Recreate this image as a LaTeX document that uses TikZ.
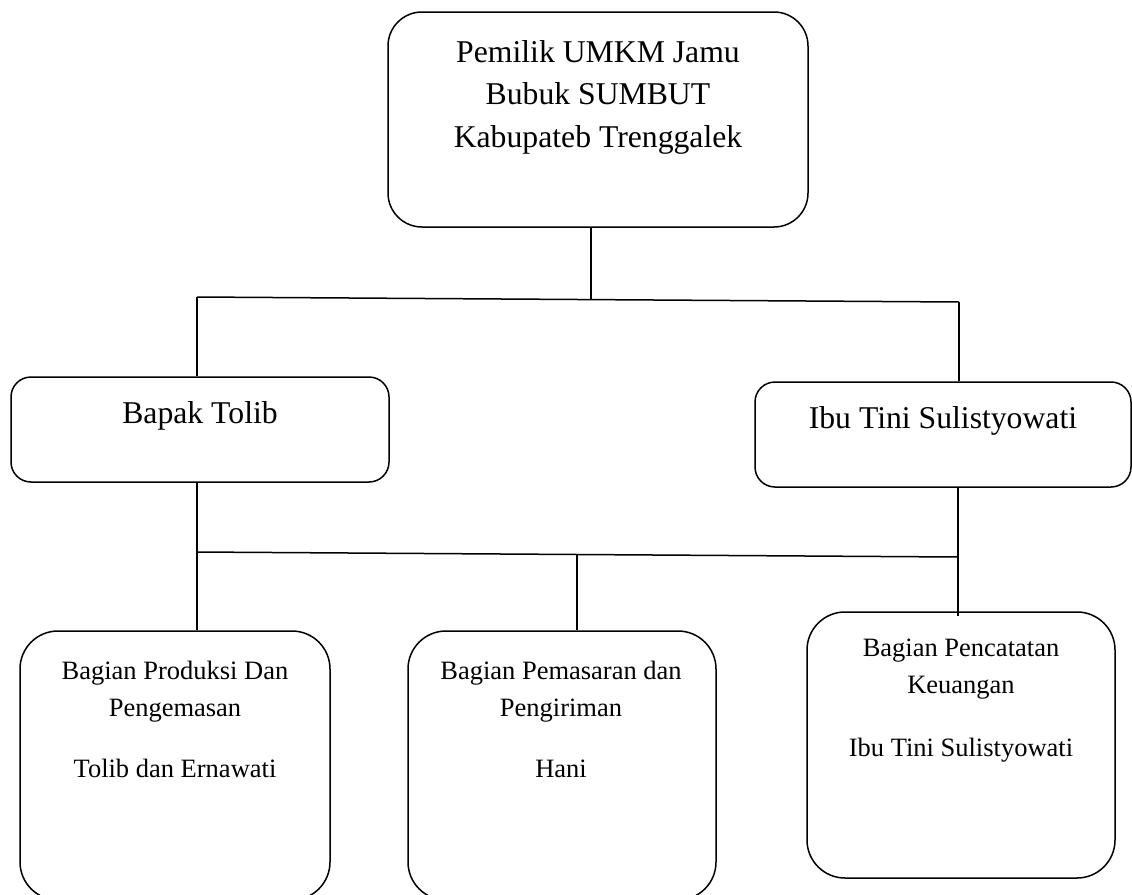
\documentclass[tikz,border=0pt]{standalone}
\usepackage{fontspec}
\setmainfont{Liberation Serif}
\usetikzlibrary{positioning,calc}

\begin{document}
\begin{tikzpicture}[x=1pt,y=-1pt,
    box/.style={draw, line width=1.5pt, inner sep=0pt},
    bigtxt/.style={align=center, font=\fontsize{31.7}{42.5}\selectfont, inner sep=0pt},
    smalltxt/.style={align=center, font=\fontsize{26.5}{37}\selectfont, inner sep=0pt},
    link/.style={line width=1.5pt}]
    \useasboundingbox (0,0) rectangle (1132,894);
    % owner
    \node[box, rounded corners=34pt, minimum width=420pt, minimum height=215pt] (owner) at (598,119.5) {};
    \node[bigtxt] (ownertxt) at (598,97) {Pemilik UMKM Jamu\\Bubuk SUMBUT\\Kabupateb Trenggalek};
    % second level
    \node[box, rounded corners=20pt, minimum width=378pt, minimum height=105pt] (tolib) at (200,429.5) {};
    \node[bigtxt] (tolibtxt) at (200,416) {Bapak Tolib};
    \node[box, rounded corners=20pt, minimum width=376pt, minimum height=105pt] (tini) at (943,434.5) {};
    \node[bigtxt] (tinitxt) at (943,421) {Ibu Tini Sulistyowati};
    % third level
    \node[box, rounded corners=38pt, minimum width=310pt, minimum height=269pt] (prod) at (175,765.5) {};
    \node[smalltxt] (prodtxt) at (175,719) {Bagian Produksi Dan\\Pengemasan\\[24pt]Tolib dan Ernawati};
    \node[box, rounded corners=38pt, minimum width=308pt, minimum height=269pt] (pasar) at (562,765.5) {};
    \node[smalltxt] (pasartxt) at (561,719) {Bagian Pemasaran dan\\Pengiriman\\[24pt]Hani};
    \node[box, rounded corners=38pt, minimum width=308pt, minimum height=266pt] (uang) at (961,745) {};
    \node[smalltxt] (uangtxt) at (961,701) {Bagian Pencatatan\\Keuangan\\[26pt]Ibu Tini Sulistyowati};
    % upper bar
    \coordinate (barL) at (197,297);
    \coordinate (barR) at (959,302);
    \coordinate (barM) at (591,299.6);
    \draw[link] (barL) -- (barR);
    \draw[link] (owner.south -| barM) -- (barM);
    \draw[link] (barL) -- (tolib.north -| barL);
    \draw[link] (barR) -- (tini.north -| barR);
    % lower bar
    \coordinate (lowL) at (197,552);
    \coordinate (lowR) at (958,557);
    \coordinate (lowM) at (577,554);
    \draw[link] (tolib.south -| lowL) -- (prod.north -| lowL);
    \draw[link] (lowL) -- (lowR);
    \draw[link] (tini.south -| lowR) -- ([yshift=-5pt]uang.north -| lowR);
    \draw[link] (lowM) -- (pasar.north -| lowM);
\end{tikzpicture}
\end{document}
